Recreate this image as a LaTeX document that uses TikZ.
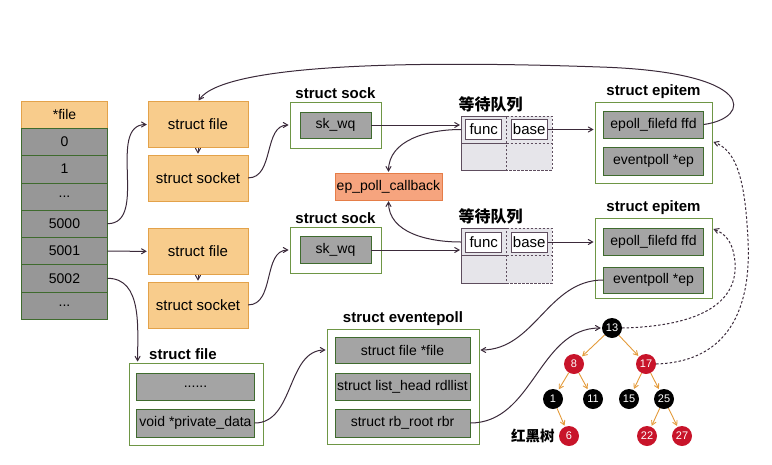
\documentclass[tikz,border=0pt]{standalone}
\usepackage{fontspec}
\setmainfont{Liberation Sans}
\newfontfamily\cjk{Noto Sans CJK SC}
\usepackage{xcolor}
\usepackage{tikz}
\usetikzlibrary{arrows,positioning}

\definecolor{fileorange}{HTML}{F8CC8C}
\definecolor{fileedge}{HTML}{E3A24A}
\definecolor{fieldgray}{HTML}{A4A4A4}
\definecolor{fieldedge}{HTML}{3F6B2E}
\definecolor{frameedge}{HTML}{6E9645}
\definecolor{wqgray}{HTML}{E6E5EA}
\definecolor{wqedge}{HTML}{5E4D5E}
\definecolor{cbfill}{HTML}{F6A47E}
\definecolor{cbedge}{HTML}{E57D48}
\definecolor{rbred}{HTML}{C8142A}
\definecolor{treeedge}{HTML}{E39A3A}
\definecolor{linkcol}{HTML}{3B2A3A}

\begin{document}
\begin{tikzpicture}[x=1pt,y=-1pt,>=angle 60,
    link/.style={->,draw=linkcol,line width=1pt,shorten >=1pt},
    fd cell/.style={rectangle,draw=fieldedge,fill=fieldgray!92!black,minimum width=86pt,minimum height=27.3pt,inner sep=0pt,outer sep=0pt,font=\fontsize{14}{14}\selectfont},
    file node/.style={rectangle,draw=fileedge,fill=fileorange,minimum width=100pt,minimum height=46pt,inner sep=0pt,font=\fontsize{15}{15}\selectfont},
    frame node/.style={rectangle,draw=frameedge,fill=white,line width=0.8pt,inner sep=0pt},
    field node/.style={rectangle,draw=fieldedge,fill=fieldgray,inner sep=0pt,font=\fontsize{14}{14}\selectfont},
    title node/.style={inner sep=0pt,font=\bfseries\fontsize{15}{15}\selectfont},
    cjk title/.style={inner sep=0pt,font=\cjk\bfseries\fontsize{16}{16}\selectfont},
    callback node/.style={rectangle,draw=cbedge,fill=cbfill,minimum width=107pt,minimum height=27pt,inner sep=0pt,font=\fontsize{14}{14}\selectfont},
    wq node/.style={rectangle,fill=wqgray,minimum width=91pt,inner sep=0pt,outer sep=0pt},
    wq line/.style={draw=wqedge,line width=0.9pt},
    slot node/.style={rectangle,draw=wqedge,fill=white,line width=0.9pt,minimum width=36pt,minimum height=20pt,inner sep=0pt,font=\fontsize{15}{15}\selectfont},
    black node/.style={circle,fill=black,text=white,minimum size=20pt,inner sep=0pt,font=\fontsize{11}{11}\selectfont},
    red node/.style={black node,fill=rbred}]
    \useasboundingbox (0,0) rectangle (772,464);

    % fd table
    \node[fd cell,fill=fileorange,draw=fileedge] (fdhead) at (64.5,114.5) {*file};
    \node[fd cell,below=0pt of fdhead] (fd0) {0};
    \node[fd cell,below=0pt of fd0] (fd1) {1};
    \node[fd cell,below=0pt of fd1] (fddots) {...};
    \node[fd cell,below=0pt of fddots] (fd5000) {5000};
    \node[fd cell,below=0pt of fd5000] (fd5001) {5001};
    \node[fd cell,below=0pt of fd5001] (fd5002) {5002};
    \node[fd cell,below=0pt of fd5002] (fdmore) {...};

    % struct file / struct socket
    \node[file node] (file1) at (198,124.5) {struct file};
    \node[file node,below=7pt of file1] (socket1) {struct socket};
    \node[file node] (file2) at (198,251.5) {struct file};
    \node[file node,below=7pt of file2] (socket2) {struct socket};

    % struct sock
    \node[frame node,minimum width=91pt,minimum height=46pt] (sock1) at (335.5,125) {};
    \node[field node,minimum width=71pt,minimum height=26pt] (skwq1) at (sock1) {sk\_wq};
    \node[title node,above=3pt of sock1] (sock1title) {struct sock};
    \node[frame node,minimum width=91pt,minimum height=46pt] (sock2) at (335.5,250) {};
    \node[field node,minimum width=71pt,minimum height=27pt] (skwq2) at (sock2) {sk\_wq};
    \node[title node,above=3pt of sock2] (sock2title) {struct sock};

    \node[callback node] (callback) at (388.5,186.5) {ep\_poll\_callback};

    % wait queues
    \node[wq node,minimum height=54pt] (wq1) at (506.5,143) {};
    \node[wq node,minimum height=55pt] (wq2) at (506.5,255.5) {};
    \foreach \q in {wq1,wq2} {
      \draw[wq line] (\q.north) -- (\q.north west) -- (\q.south west) -- (\q.south);
      \draw[wq line] (\q.west) -- (\q.center);
      \draw[wq line,dash pattern=on 2.5pt off 1.5pt] (\q.north) -- (\q.north east) -- (\q.south east) -- (\q.south) -- (\q.north);
      \draw[wq line,dash pattern=on 2.5pt off 1.5pt] (\q.center) -- (\q.east);
    }
    \node[slot node] (func1) at (483.75,129.5) {func};
    \node[slot node] (base1) at (529.25,129.5) {base};
    \node[cjk title,above=4pt of wq1,xshift=-16pt] (wq1title) {等待队列};
    \node[slot node] (func2) at (483.75,242) {func};
    \node[slot node] (base2) at (529.25,242) {base};
    \node[cjk title,above=4pt of wq2,xshift=-16pt] (wq2title) {等待队列};

    % struct epitem
    \node[frame node,minimum width=117pt,minimum height=81pt] (ep1) at (653.5,142.5) {};
    \node[field node,minimum width=100pt,minimum height=27pt] (ffd1) at (653.5,124.5) {epoll\_filefd ffd};
    \node[field node,minimum width=100pt,minimum height=28pt] (epp1) at (653.5,161) {eventpoll *ep};
    \node[title node,above=3pt of ep1] (ep1title) {struct epitem};
    \node[frame node,minimum width=117pt,minimum height=80pt] (ep2) at (653.5,258) {};
    \node[field node,minimum width=100pt,minimum height=27pt] (ffd2) at (653.5,241.5) {epoll\_filefd ffd};
    \node[field node,minimum width=100pt,minimum height=26pt] (epp2) at (653.5,280) {eventpoll *ep};
    \node[title node,above=3pt of ep2] (ep2title) {struct epitem};

    % struct file (eventpoll side)
    \node[frame node,minimum width=134pt,minimum height=82pt] (bf) at (196,404) {};
    \node[field node,minimum width=118pt,minimum height=27pt] (bfdots) at (195.5,386.5) {......};
    \node[field node,minimum width=118pt,minimum height=28pt] (priv) at (195.5,423) {void *private\_data};
    \node[title node,above=3pt of bf,xshift=-13pt] (bftitle) {struct file};

    % struct eventepoll
    \node[frame node,minimum width=152pt,minimum height=115pt] (ev) at (403,386.5) {};
    \node[field node,minimum width=135pt,minimum height=26pt] (evfile) at (402.5,350) {struct file *file};
    \node[field node,minimum width=135pt,minimum height=27pt] (evlist) at (402.5,386.5) {struct list\_head rdllist};
    \node[field node,minimum width=135pt,minimum height=28pt] (evrbr) at (402.5,423) {struct rb\_root rbr};
    \node[title node,above=3pt of ev] (evtitle) {struct eventepoll};

    % red-black tree
    \node[black node] (t13) at (612,328) {13};
    \node[red node] (t8) at (574,364) {8};
    \node[red node] (t17) at (646,364) {17};
    \node[black node] (t1) at (553,399) {1};
    \node[black node] (t11) at (593,399) {11};
    \node[black node] (t15) at (629,399) {15};
    \node[black node] (t25) at (664,399) {25};
    \node[red node] (t6) at (569,436) {6};
    \node[red node] (t22) at (647,436) {22};
    \node[red node] (t27) at (682,436) {27};
    \node[cjk title,font=\cjk\bfseries\fontsize{14.5}{14.5}\selectfont,left=4pt of t6] (rbtitle) {红黑树};

    \path[->,draw=treeedge,line width=0.9pt,shorten >=1pt]
    (t13) edge (t8)
    (t13) edge (t17)
    (t8) edge (t1)
    (t8) edge (t11)
    (t17) edge (t15)
    (t17) edge (t25)
    (t1) edge (t6)
    (t25) edge (t22)
    (t25) edge (t27);

    % links
    \draw[link] (fd5000.east) to[out=0,in=180] (file1.west);
    \draw[link] (file1) -- (socket1);
    \draw[link] (socket1.east) to[out=0,in=180] (sock1.west);
    \draw[link] (skwq1.east) -- (skwq1.east -| wq1.west);
    \draw[link] (func1.west -| wq1.west) to[out=180,in=90] (callback.north);
    \draw[link] (base1.east) -- (base1.east -| ep1.west);
    \draw[link] (ffd1.east) .. controls (752,118) and (758,72) .. (600,67) .. controls (430,61) and (225,62) .. (file1.north);

    \draw[link] (fd5001) -- (file2);
    \draw[link] (file2) -- (socket2);
    \draw[link] (socket2.east) to[out=0,in=180] (sock2.west);
    \draw[link] (skwq2.east) -- (skwq2.east -| wq2.west);
    \draw[link] (func2.west -| wq2.west) to[out=180,in=-90] (callback.south);
    \draw[link] (base2.east) -- (base2.east -| ep2.west);

    \draw[link] (fd5002.east) to[out=0,in=90] ([xshift=9pt]bf.north west);
    \draw[link] (priv.east) to[out=0,in=180] (evfile.west -| ev.west);
    \draw[link] (epp2.west) to[out=180,in=0] (evfile.east -| ev.east);
    \draw[link] (evrbr.east) to[out=0,in=180] (t13.west);
    \draw[link,dash pattern=on 2.5pt off 2pt] (t13.east) .. controls (705,326) and (738,300) .. (735,262) .. controls (733,242) and (726,234) .. ([yshift=-11pt]ep2.north east);
    \draw[link,dash pattern=on 2.5pt off 2pt] (t17.east) .. controls (720,362) and (752,320) .. (748,240) .. controls (745,175) and (735,150) .. ([yshift=-40pt]ep1.north east);
  \end{tikzpicture}
\end{document}
